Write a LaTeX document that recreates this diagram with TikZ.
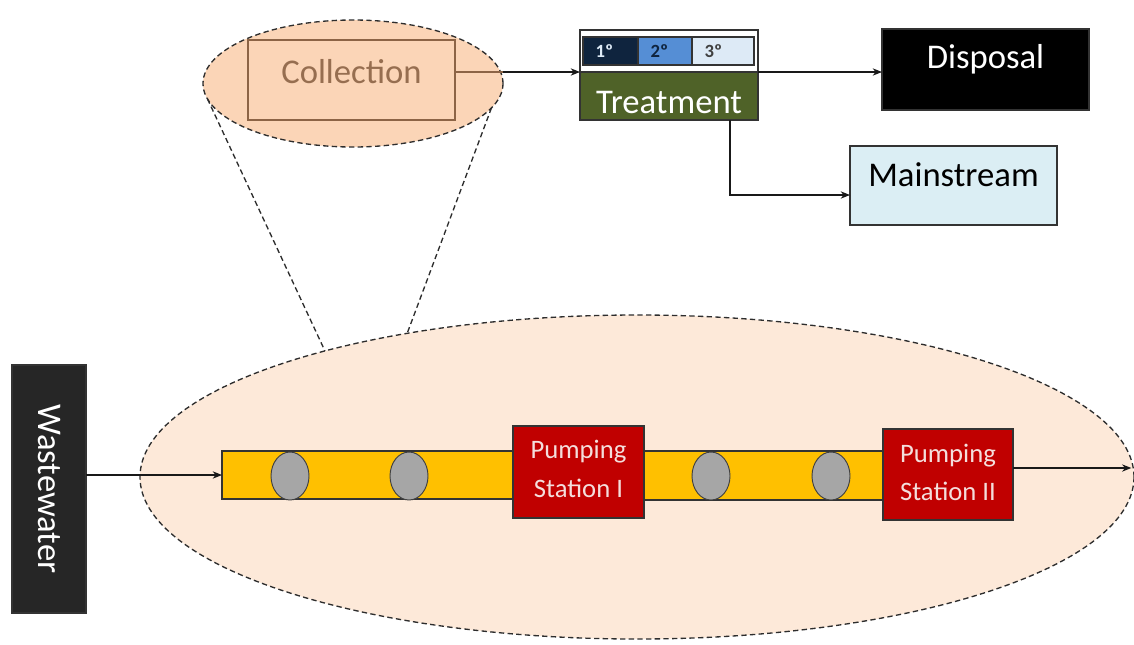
\documentclass[tikz,border=0pt]{standalone}
\usepackage{fontspec}
\setmainfont{Carlito}
\usetikzlibrary{shapes.geometric,arrows.meta}
\newcommand\pxu{0.75pt}
\definecolor{peachbg}{RGB}{253,233,217}
\definecolor{peach}{RGB}{251,213,183}
\definecolor{collline}{RGB}{140,100,70}
\definecolor{colltext}{RGB}{150,110,80}
\definecolor{navy}{RGB}{15,36,62}
\definecolor{midblue}{RGB}{85,142,213}
\definecolor{paleblue}{RGB}{221,234,246}
\definecolor{olivegreen}{RGB}{79,98,40}
\definecolor{mainfill}{RGB}{219,238,244}
\definecolor{wwfill}{RGB}{38,38,38}
\definecolor{pipeyellow}{RGB}{255,192,0}
\definecolor{plug}{RGB}{166,166,166}
\definecolor{pumpred}{RGB}{192,0,0}
\definecolor{pumptext}{RGB}{244,222,220}
\definecolor{dashc}{RGB}{45,45,45}
\begin{document}
\begin{tikzpicture}[x=0.75pt,y=-0.75pt,
  box/.style={draw=black!80, line width=0.8pt, inner sep=0pt, outer sep=0pt},
  arr/.style={line width=0.9pt, draw=black!90, -{Stealth[length=7pt,width=5.5pt]}},
  zoomline/.style={draw=dashc, line width=1pt, dash pattern=on 4pt off 2.5pt},
  lensshape/.style={ellipse, zoomline, inner sep=0pt, outer sep=0pt},
  bigtext/.style={font=\fontsize{26}{30}\selectfont},
  pumptxt/.style={font=\fontsize{20}{29}\selectfont, text=pumptext, align=center},
  stagetxt/.style={font=\fontsize{14}{16}\selectfont\bfseries, anchor=west, xshift=8*\pxu},
  plugstyle/.style={ellipse, draw=black!75, line width=0.7pt, fill=plug, inner sep=0pt,
    minimum width=38*\pxu, minimum height=48*\pxu},
  pumpbox/.style={box, fill=pumpred}
]
\useasboundingbox (0,0) rectangle (1134,644);

% network area and its magnified view
\node[lensshape, fill=peachbg, minimum width=994*\pxu, minimum height=324*\pxu] (net) at (637,477) {};
\node[lensshape, fill=peach, minimum width=300*\pxu, minimum height=127*\pxu] (lens) at (353,83.5) {};
\draw[zoomline] (lens.186.6) -- (net.158.8);
\draw[zoomline] (lens.-10.7) -- (net.148.4);

% collection stage
\node[box, draw=collline, fill=peach, minimum width=207*\pxu, minimum height=80*\pxu,
  label={[bigtext, text=colltext, yshift=8*\pxu]center:Collection}] (coll) at (351.5,80) {};

% treatment block with its three stages
\node[box, fill=white, minimum width=178*\pxu, minimum height=90*\pxu] (treat) at (669,75) {};
\node[box, fill=navy, minimum width=55*\pxu, minimum height=28*\pxu,
  label={[stagetxt, text=paleblue]west:1º}] (s1) at (610.5,51) {};
\node[box, fill=midblue, minimum width=54*\pxu, minimum height=28*\pxu,
  label={[stagetxt, text=navy]west:2º}] (s2) at (665,51) {};
\node[box, fill=paleblue, minimum width=62*\pxu, minimum height=28*\pxu,
  label={[stagetxt, text=black!75]west:3º}] (s3) at (723,51) {};
\node[box, fill=olivegreen, minimum width=178*\pxu, minimum height=48*\pxu,
  label={[bigtext, text=white, yshift=-6*\pxu]center:Treatment}] (treatg) at (669,96) {};

% outputs
\node[box, fill=black, minimum width=207*\pxu, minimum height=81*\pxu,
  label={[bigtext, text=white, yshift=10*\pxu]center:Disposal}] (disp) at (985.5,69.5) {};
\node[box, fill=mainfill, minimum width=207*\pxu, minimum height=79*\pxu,
  label={[bigtext, text=black, yshift=11*\pxu]center:Mainstream}] (main) at (953.5,185.5) {};

% source
\node[box, fill=wwfill, minimum width=74*\pxu, minimum height=248*\pxu,
  label={[bigtext, text=white, rotate=-90]center:Wastewater}] (ww) at (49,489) {};

% sewer pipes and pumping stations
\node[box, fill=pipeyellow, minimum width=291*\pxu, minimum height=48*\pxu] (pipe1) at (367.5,475) {};
\node[box, fill=pipeyellow, minimum width=239*\pxu, minimum height=49*\pxu] (pipe2) at (763.5,475.5) {};
\node[plugstyle] (g1) at (290,476) {};
\node[plugstyle] (g2) at (409,476) {};
\node[plugstyle] (g3) at (711,476) {};
\node[plugstyle] (g4) at (831,476) {};
\node[pumpbox, minimum width=131*\pxu, minimum height=92*\pxu,
  label={[pumptxt, yshift=3*\pxu]center:Pumping\\Station I}] (ps1) at (578.5,472) {};
\node[pumpbox, minimum width=130*\pxu, minimum height=91*\pxu,
  label={[pumptxt, yshift=2*\pxu]center:Pumping\\Station II}] (ps2) at (948,474.5) {};

% flows
\draw[arr] (coll.east |- treatg.north west) -- (treatg.north west);
\draw[collline, line width=0.8pt] (coll.east |- treatg.north west) -- (lens.east |- treatg.north west);
\draw[arr] (treatg.north east) -- (disp.west |- treatg.north east);
\draw[arr] ([xshift=61*\pxu]treatg.south) |- ([yshift=-9.5*\pxu]main.west);
\draw[arr] (ww.east |- pipe1.west) -- (pipe1.west);
\coordinate (out2) at ([yshift=6.5*\pxu]ps2.east);
\draw[arr, shorten >=2pt] (out2) -- (out2 -| net.east);
\end{tikzpicture}
\end{document}
